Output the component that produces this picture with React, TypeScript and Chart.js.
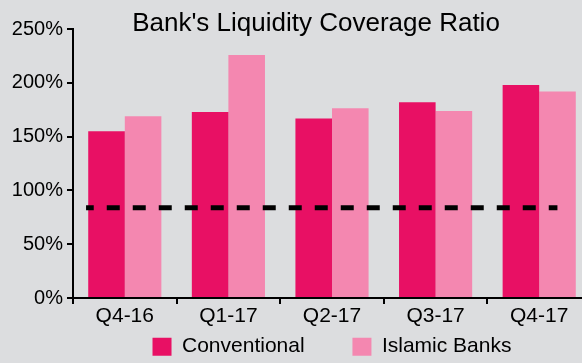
import React, { useEffect, useRef } from 'react';
import { Chart, registerables } from 'chart.js';

Chart.register(...registerables);

const categories = ['Q4-16', 'Q1-17', 'Q2-17', 'Q3-17', 'Q4-17'];
const conventional = [155, 173, 167, 182, 198];
const islamicBanks = [169, 226, 176.5, 174, 192];
const thresholdValue = 84;
// start / end of the dashed threshold, in category-index units
const thresholdSpan = [-0.374, 4.176];
const yTicks = [0, 50, 100, 150, 200, 250];

const BG = '#dcdddf';
const C_CONV = '#e81064';
const C_ISL = '#f487b0';
const FONT = "'Liberation Sans', Arial, Helvetica, sans-serif";

export default function App() {
  const ref = useRef<HTMLCanvasElement>(null);

  useEffect(() => {
    document.body.style.margin = '0';
    document.body.style.background = BG;
    Chart.defaults.font.family = FONT;
    const chart = new Chart(ref.current as HTMLCanvasElement, {
      type: 'bar',
      data: {
        labels: categories,
        datasets: [
          {
            label: 'Conventional',
            data: conventional,
            backgroundColor: C_CONV,
            borderWidth: 0,
            xAxisID: 'x',
            yAxisID: 'y',
            order: 2,
          },
          {
            label: 'Islamic Banks',
            data: islamicBanks,
            backgroundColor: C_ISL,
            borderWidth: 0,
            xAxisID: 'x',
            yAxisID: 'y',
            order: 2,
          },
          {
            type: 'line',
            label: 'Threshold',
            parsing: false,
            data: thresholdSpan.map((x) => ({ x, y: thresholdValue })),
            xAxisID: 'x',
            yAxisID: 'y',
            order: 0,
            borderColor: '#000',
            borderWidth: 5,
            borderDash: [13, 13],
            borderDashOffset: 5.3,
            borderCapStyle: 'butt',
            pointRadius: 0,
            fill: false,
          } as any,
        ],
      },
      options: {
        animation: false,
        responsive: false,
        maintainAspectRatio: false,
        layout: { padding: { left: 41, right: 9, top: 0, bottom: -4.2 } },
        datasets: { bar: { categoryPercentage: 0.706, barPercentage: 1.0 } } as any,
        plugins: {
          title: {
            display: true,
            text: "Bank's Liquidity Coverage Ratio",
            color: '#000',
            font: { size: 26, weight: 'normal' },
            padding: { top: 8, bottom: -10 },
          },
          legend: {
            position: 'bottom',
            fullSize: false,
            labels: {
              color: '#000',
              font: { size: 21 },
              boxWidth: 19,
              boxHeight: 18,
              padding: 7,
              filter: (item: any) => item.datasetIndex < 2,
              sort: (a: any, b: any) => a.datasetIndex - b.datasetIndex,
              generateLabels: (c: any) => {
                const items = Chart.defaults.plugins.legend.labels.generateLabels(c);
                return items.map((it: any) => ({
                  ...it,
                  text: it.datasetIndex === 0 ? it.text + '       ' : it.text,
                  lineWidth: 0,
                }));
              },
            },
          },
          tooltip: { enabled: false },
        },
        scales: {
          x: {
            type: 'category',
            offset: true,
            grid: {
              display: true,
              drawOnChartArea: false,
              drawTicks: true,
              tickLength: 6,
              color: '#000',
              lineWidth: 2,
              offset: true,
            },
            border: { display: true, color: '#000', width: 2 },
            ticks: { color: '#000', font: { size: 21 }, padding: 0, maxRotation: 0 },
          },
          y: {
            min: 0,
            max: 250,
            afterBuildTicks: (s: any) => {
              s.ticks = yTicks.map((v) => ({ value: v }));
            },
            afterFit: (s: any) => {
              s.width = 32;
              s._computeLabelArea = () => undefined;
            },
            grid: {
              drawOnChartArea: false,
              drawTicks: true,
              tickLength: 6,
              color: '#000',
              lineWidth: 2,
            },
            border: { display: true, color: '#000', width: 2 },
            ticks: {
              color: '#000',
              font: { size: 20 },
              padding: 4,
              callback: (v: any) => v + '%',
            },
          },
        },
      },
    });
    return () => chart.destroy();
  }, []);

  return (
    <div style={{ width: 582, height: 363, overflow: 'hidden', background: BG, position: 'relative' }}>
      <canvas ref={ref} width={600} height={363} style={{ width: 600, height: 363, display: 'block' }} />
    </div>
  );
}
